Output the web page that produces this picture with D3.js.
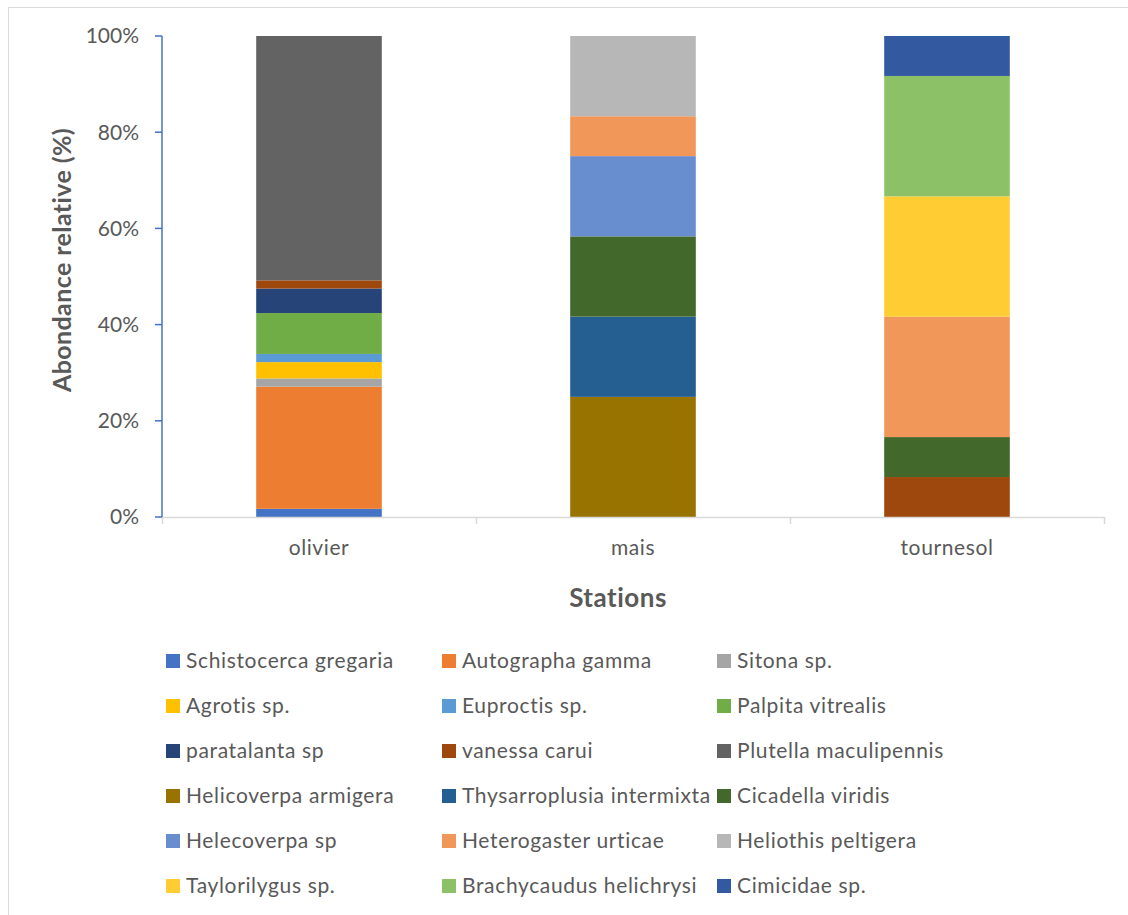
<!DOCTYPE html>
<html><head><meta charset="utf-8">
<script src="https://cdn.jsdelivr.net/npm/d3@7"></script>
<style>body{margin:0;background:#fff;} text{font-family:Lato,"Open Sans",sans-serif;}</style>
</head><body>
<svg id="c" width="1128" height="915"></svg>
<script>
const stations = ["olivier", "mais", "tournesol"];
const species = ["Schistocerca gregaria","Autographa gamma","Sitona sp.","Agrotis sp.","Euproctis sp.","Palpita vitrealis","paratalanta sp","vanessa carui","Plutella maculipennis","Helicoverpa armigera","Thysarroplusia intermixta","Cicadella viridis","Helecoverpa sp","Heterogaster urticae","Heliothis peltigera","Taylorilygus sp.","Brachycaudus helichrysi","Cimicidae sp."];
const colors = ["#4472C4","#ED7D31","#A5A5A5","#FFC000","#5B9BD5","#70AD47","#264478","#9E480E","#636363","#997300","#255E91","#43682B","#698ED0","#F1975A","#B7B7B7","#FFCD33","#8CC168","#335AA1"];
// relative abundance (%) per station, in species order
const olivierValues   = [1.7,25.4,1.7,3.4,1.7,8.5,5.1,1.7,50.8,0,0,0,0,0,0,0,0,0];
const maisValues      = [0,0,0,0,0,0,0,0,0,25,16.7,16.7,16.7,8.3,16.7,0,0,0];
const tournesolValues = [0,0,0,0,0,0,0,8.3,0,0,0,8.3,0,25,0,25,25,8.3];
const yTicks = [0,20,40,60,80,100];

const valuesByStation = [olivierValues, maisValues, tournesolValues];
const table = stations.map((s,i)=>{const o={station:s}; species.forEach((sp,j)=>o[sp]=valuesByStation[i][j]); return o;});
const svg = d3.select("#c");
svg.append("line").attr("x1",8).attr("x2",1128).attr("y1",7.5).attr("y2",7.5).attr("stroke","#d9d9d9");
svg.append("line").attr("x1",8.5).attr("x2",8.5).attr("y1",7).attr("y2",915).attr("stroke","#d9d9d9");

const pL=162, pR=1104, pT=36, pB=517;
const x = d3.scaleBand().domain(stations).range([pL,pR]).paddingInner(0).paddingOuter(0);
const y = d3.scaleLinear().domain([0,1]).range([pB,pT]);
const stack = d3.stack().keys(species).offset(d3.stackOffsetExpand);
const series = stack(table);
const bw = x.bandwidth()*0.4;
const g = svg.append("g");
series.forEach((s,i)=>{
  g.selectAll(null).data(s).join("rect")
   .attr("x",d=>x(d.data.station)+x.bandwidth()/2-bw/2)
   .attr("width",bw)
   .attr("y",d=>y(d[1]))
   .attr("height",d=>Math.max(0,y(d[0])-y(d[1])))
   .attr("fill",colors[i]);
});
// x axis
const xa = svg.append("g").attr("transform",`translate(0,${pB})`);
xa.append("line").attr("x1",pL).attr("x2",pR).attr("y1",0.5).attr("y2",0.5).attr("stroke","#d9d9d9").attr("stroke-width",1.5);
const bounds = stations.map(s=>x(s)).concat([pR]);
xa.selectAll(null).data(bounds).join("line").attr("x1",d=>d+0.5).attr("x2",d=>d+0.5).attr("y1",0).attr("y2",7).attr("stroke","#d9d9d9").attr("stroke-width",1.5);
xa.selectAll(null).data(stations).join("text").attr("x",d=>x(d)+x.bandwidth()/2).attr("y",31).attr("dy","0.35em")
  .attr("text-anchor","middle").attr("font-size",21).attr("letter-spacing",0.6).attr("fill","#595959").text(d=>d);
// y axis
const ya = svg.append("g");
ya.append("line").attr("x1",pL).attr("x2",pL).attr("y1",pT).attr("y2",pB).attr("stroke","#4472C4").attr("stroke-width",1.5);
ya.selectAll(null).data(yTicks).join("line").attr("x1",pL-7).attr("x2",pL).attr("y1",d=>y(d/100)).attr("y2",d=>y(d/100)).attr("stroke","#4472C4").attr("stroke-width",1.5);
ya.selectAll(null).data(yTicks).join("text").attr("x",139).attr("y",d=>y(d/100)).attr("dy","0.35em")
  .attr("text-anchor","end").attr("font-size",21).attr("fill","#595959").text(d=>d+"%");
svg.append("text").attr("transform",`translate(62,260) rotate(-90)`).attr("text-anchor","middle").attr("dy","0.35em")
  .attr("font-size",25).attr("letter-spacing",0.4).attr("font-weight","bold").attr("fill","#595959").text("Abondance relative (%)");
svg.append("text").attr("x",618).attr("y",598).attr("dy","0.35em").attr("text-anchor","middle")
  .attr("font-size",26).attr("letter-spacing",0.5).attr("font-weight","bold").attr("fill","#595959").text("Stations");
// legend
const colX=[166,442,717], rowY0=661, rowDy=45;
const lg = svg.append("g");
species.forEach((sp,i)=>{
  const cx=colX[i%3], cy=rowY0+Math.floor(i/3)*rowDy;
  lg.append("rect").attr("x",cx).attr("y",cy-7).attr("width",14).attr("height",14).attr("fill",colors[i]);
  lg.append("text").attr("x",cx+20).attr("y",cy).attr("dy","0.35em").attr("font-size",21).attr("letter-spacing",0.65).attr("fill","#595959").text(sp);
});
</script>
</body></html>
